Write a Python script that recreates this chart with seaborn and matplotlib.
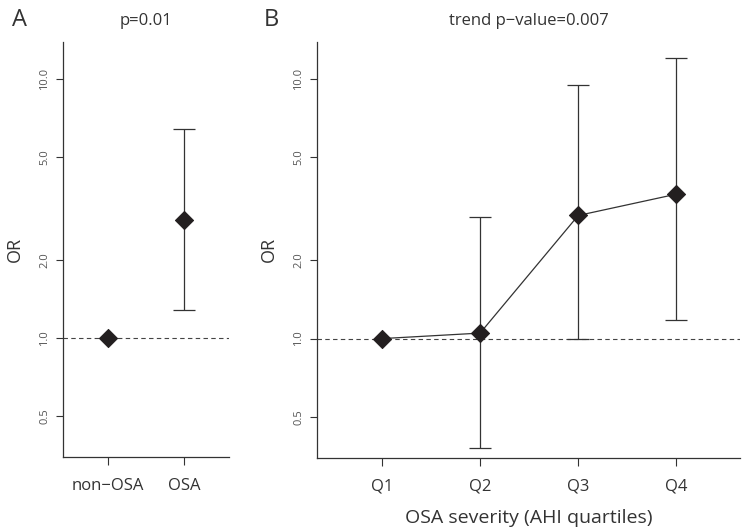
import numpy as np
import pandas as pd
import matplotlib
matplotlib.use("Agg")
import matplotlib.pyplot as plt
import seaborn as sns

# panel A: non-OSA vs OSA
groups_a = ["non\u2212OSA", "OSA"]
or_a = [1.0, 2.85]
lo_a = [np.nan, 1.28]
hi_a = [np.nan, 6.4]

# panel B: AHI quartiles
quartiles = ["Q1", "Q2", "Q3", "Q4"]
or_b = [1.0, 1.05, 2.98, 3.6]
lo_b = [np.nan, 0.38, 1.0, 1.18]
hi_b = [np.nan, 2.93, 9.5, 12.0]

yticks = [0.5, 1.0, 2.0, 5.0, 10.0]
ytick_labels = ["0.5", "1.0", "2.0", "5.0", "10.0"]

sns.set_style("ticks")
plt.rcParams['font.family'] = ['Open Sans', 'DejaVu Sans']

INK = "#231f20"
AX = "#333333"

fig = plt.figure(figsize=(7.5, 5.3), dpi=100)
ax_a = fig.add_axes([0.084, 0.138, 0.221, 0.783])
ax_b = fig.add_axes([0.4227, 0.136, 0.564, 0.785])


def draw_panel(ax, labels, ors, los, his, connect):
    df = pd.DataFrame({"pos": np.arange(1, len(labels) + 1), "OR": ors,
                       "lo": los, "hi": his})
    ax.set_yscale("log")
    ax.axhline(1.0, ls=(0, (4, 3)), color="#444444", lw=0.8, zorder=1)
    ci = df.dropna()
    ax.errorbar(ci["pos"], ci["OR"],
                yerr=[ci["OR"] - ci["lo"], ci["hi"] - ci["OR"]],
                fmt="none", ecolor=AX, elinewidth=0.9, capsize=8,
                capthick=0.9, zorder=2)
    if connect:
        sns.lineplot(data=df, x="pos", y="OR", ax=ax, color=AX, lw=0.9,
                     zorder=3, legend=False)
    sns.scatterplot(data=df, x="pos", y="OR", ax=ax, marker="D", s=85,
                    color=INK, edgecolor=INK, zorder=4, legend=False)
    ax.set_ylim(0.347, 13.9)
    ax.set_yticks(yticks)
    ax.set_yticklabels(ytick_labels, rotation=90, va="center",
                       fontsize=8, color="#555555")
    ax.yaxis.set_minor_locator(matplotlib.ticker.NullLocator())
    ax.set_xticks(df["pos"])
    ax.set_xticklabels(labels, fontsize=12, color="#333333")
    ax.tick_params(axis="y", length=5, width=0.8, color=AX, pad=4)
    ax.tick_params(axis="x", length=6, width=0.8, color=AX, pad=9)
    for s in ["top", "right"]:
        ax.spines[s].set_visible(False)
    for s in ["left", "bottom"]:
        ax.spines[s].set_color(AX)
        ax.spines[s].set_linewidth(0.9)
    ax.set_ylabel("OR", fontsize=13, color="#333333", labelpad=11)
    ax.set_xlabel("")


draw_panel(ax_a, groups_a, or_a, lo_a, hi_a, connect=False)
ax_a.set_xlim(0.41, 2.59)
ax_a.set_title("p=0.01", fontsize=12, color="#333333", pad=12)

draw_panel(ax_b, quartiles, or_b, lo_b, hi_b, connect=True)
ax_b.set_xlim(0.337, 4.65)
ax_b.set_title("trend p\u2212value=0.007", fontsize=12, color="#333333", pad=12)
ax_b.set_xlabel("OSA severity (AHI quartiles)", fontsize=14,
                color="#333333", labelpad=10)

fig.text(0.016, 0.962, "A", fontsize=17, color="#333333", va="center")
fig.text(0.352, 0.962, "B", fontsize=17, color="#333333", va="center")

fig.savefig("out.png", dpi=100)
